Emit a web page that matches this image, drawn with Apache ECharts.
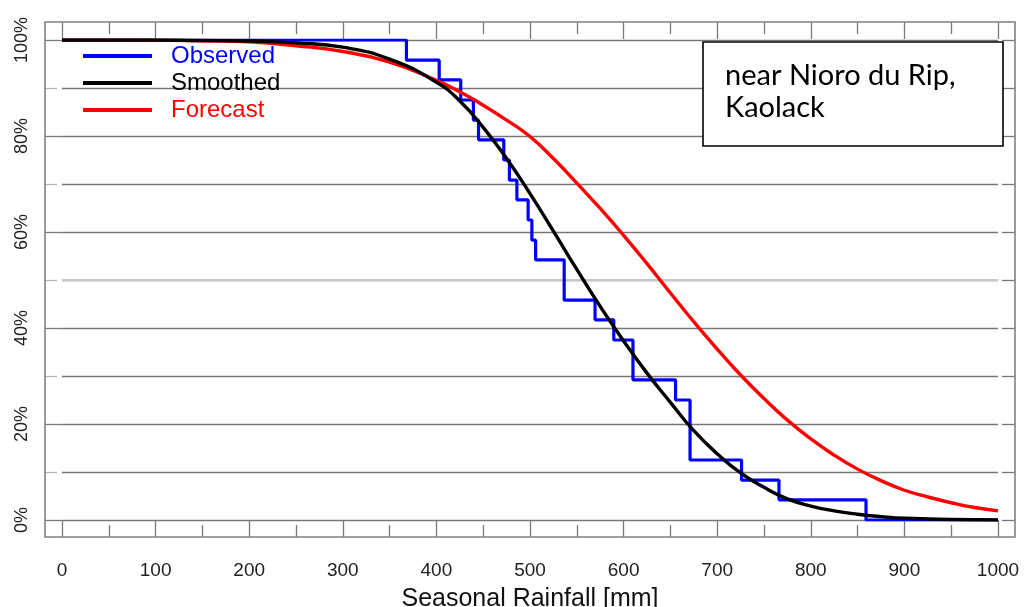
<!DOCTYPE html>
<html>
<head>
<meta charset="utf-8">
<script src="https://cdn.jsdelivr.net/npm/echarts@6/dist/echarts.min.js"></script>
<style>
html,body{margin:0;padding:0;background:#fff;}
#chart{width:1025px;height:607px;}
</style>
</head>
<body>
<div id="chart"></div>
<script>
// ---- data ----
const seriesNames = ['Observed', 'Smoothed', 'Forecast'];

// Observed empirical exceedance curve (step): rainfall where each drop occurs, level after the drop
const obsRain = [0, 368, 403, 426, 439.5, 445, 472, 478, 486, 498, 502, 506, 536.5, 569.5, 589.5, 610, 655.5, 671, 726, 766, 859, 1000];
const obsProb = [100, 95.8, 91.7, 87.5, 83.3, 79.2, 75, 70.8, 66.7, 62.5, 58.3, 54.2, 45.8, 41.7, 37.5, 29.2, 25, 12.5, 8.3, 4.2, 0, 0];

// Smoothed (black)
const smoothRain = [0, 50, 100, 150, 200, 250, 300, 350, 400, 425, 450, 475, 500, 525, 550, 575, 600, 625, 650, 675, 700, 725, 750, 775, 800, 825, 850, 875, 900, 950, 1000];
const smoothProb = [100, 100, 100, 99.9, 99.8, 99.4, 98.5, 96.0, 91.2, 87.3, 81.8, 75.3, 68.0, 60.2, 52.2, 44.5, 37.3, 30.6, 24.5, 18.6, 13.8, 9.8, 6.8, 4.4, 2.9, 1.9, 1.2, 0.7, 0.35, 0.1, 0];

// Forecast (red)
const fcstRain = [0, 50, 100, 150, 200, 250, 300, 350, 400, 425, 450, 475, 500, 525, 550, 575, 600, 625, 650, 675, 700, 725, 750, 775, 800, 825, 850, 875, 900, 925, 950, 975, 1000];
const fcstProb = [100, 100, 99.95, 99.85, 99.6, 98.8, 97.6, 95.4, 91.6, 89.2, 86.4, 83.3, 79.9, 75.3, 70.2, 64.9, 59.3, 53.4, 47.3, 41.3, 35.6, 30.2, 25.3, 20.8, 16.9, 13.5, 10.6, 8.2, 6.2, 4.8, 3.6, 2.6, 1.9];

const xTitle = 'Seasonal Rainfall [mm]';
const noteLines = ['near Nioro du Rip,', 'Kaolack'];

// ---- build chart ----
const pairs = (xs, ys) => xs.map((x, i) => [x, ys[i]]);
const chart = echarts.init(document.getElementById('chart'), null, {renderer: 'canvas'});
const FONT = '"Liberation Sans", Arial, Helvetica, sans-serif';
const tickGray = '#7a7a7a';
const minorGray = '#b5b5b5';
const hiddenLine = {show: false, onZero: false};

chart.setOption({
  animation: false,
  backgroundColor: '#ffffff',
  grid: {left: 62, right: 27, top: 40, bottom: 87, containLabel: false, outerBoundsMode: 'none'},
  xAxis: [{
    type: 'value', min: 0, max: 1000, interval: 100, position: 'bottom', offset: 17,
    axisLine: hiddenLine,
    axisTick: {show: true, inside: true, length: 17, lineStyle: {color: tickGray, width: 1.3}},
    minorTick: {show: true, splitNumber: 2, length: 12, lineStyle: {color: tickGray, width: 1.3}},
    axisLabel: {show: true, margin: 24, color: '#222', fontFamily: FONT, fontSize: 19, formatter: v => String(v)},
    splitLine: {show: false},
    name: xTitle, nameLocation: 'middle', nameGap: 50,
    nameTextStyle: {color: '#111', fontFamily: FONT, fontSize: 25}
  }, {
    type: 'value', min: 0, max: 1000, interval: 100, position: 'top', offset: 18,
    axisLine: hiddenLine,
    axisTick: {show: true, inside: true, length: 17, lineStyle: {color: tickGray, width: 1.3}},
    minorTick: {show: true, splitNumber: 2, length: 12, lineStyle: {color: tickGray, width: 1.3}},
    axisLabel: {show: false}, splitLine: {show: false}
  }],
  yAxis: [{
    type: 'value', min: 0, max: 100, interval: 20, position: 'left', offset: 17,
    axisLine: hiddenLine,
    axisTick: {show: true, inside: true, length: 17, lineStyle: {color: tickGray, width: 1.3}},
    minorTick: {show: true, splitNumber: 2, length: 12, lineStyle: {color: minorGray, width: 1.3}},
    axisLabel: {show: true, rotate: 90, margin: 14, color: '#222', fontFamily: FONT, fontSize: 18,
      formatter: v => v + '%'},
    splitLine: {show: true, lineStyle: {color: '#777', width: 1.3}},
    minorSplitLine: {show: true, lineStyle: {color: '#777', width: 1.3}}
  }, {
    type: 'value', min: 0, max: 100, interval: 10, position: 'right', offset: 17,
    axisLine: hiddenLine,
    axisTick: {show: true, inside: true, length: 13, lineStyle: {color: tickGray, width: 1.3}},
    axisLabel: {show: false}, splitLine: {show: false}
  }],
  legend: {
    show: true, orient: 'vertical', left: 83, top: 44, padding: 0, itemWidth: 69, itemHeight: 14, itemGap: 3,
    icon: 'path://M0,6 L69,6 L69,10 L0,10 Z',
    textStyle: {fontFamily: FONT, fontSize: 24, lineHeight: 24, padding: [0, 0, 0, 14]},
    data: [
      {name: seriesNames[0], textStyle: {color: '#0000ff'}},
      {name: seriesNames[1], textStyle: {color: '#000000'}},
      {name: seriesNames[2], textStyle: {color: '#ff0000'}}
    ]
  },
  series: [{
    name: seriesNames[0], type: 'line', step: 'end', data: pairs(obsRain, obsProb),
    showSymbol: false, symbol: 'none', z: 3,
    itemStyle: {color: '#0000ff'}, lineStyle: {color: '#0000ff', width: 3.2},
    markLine: {silent: true, symbol: 'none', label: {show: false}, z: 1,
      lineStyle: {color: '#c6c6c6', width: 2, type: 'solid'}, data: [{yAxis: 50}]}
  }, {
    name: seriesNames[2], type: 'line', data: pairs(fcstRain, fcstProb), smooth: 0.5,
    showSymbol: false, symbol: 'none', z: 4,
    itemStyle: {color: '#ff0000'}, lineStyle: {color: '#ff0000', width: 3.4}
  }, {
    name: seriesNames[1], type: 'line', data: pairs(smoothRain, smoothProb), smooth: 0.5,
    showSymbol: false, symbol: 'none', z: 5,
    itemStyle: {color: '#000000'}, lineStyle: {color: '#000000', width: 3.4}
  }],
  graphic: [{
    type: 'rect', z: 50, silent: true,
    shape: {x: 45, y: 22, width: 970, height: 515},
    style: {fill: null, stroke: '#808080', lineWidth: 1.6}
  }, {
    type: 'rect', z: 100, silent: true,
    shape: {x: 703, y: 42, width: 300, height: 104},
    style: {fill: '#ffffff', stroke: '#000000', lineWidth: 1.6}
  }, {
    type: 'text', z: 101, silent: true, left: 725, top: 61,
    style: {text: noteLines[0], fill: '#000', font: '29px Lato, "Open Sans", sans-serif'}
  }, {
    type: 'text', z: 101, silent: true, left: 725, top: 93,
    style: {text: noteLines[1], fill: '#000', font: '29px Lato, "Open Sans", sans-serif'}
  }]
});
</script>
</body>
</html>
